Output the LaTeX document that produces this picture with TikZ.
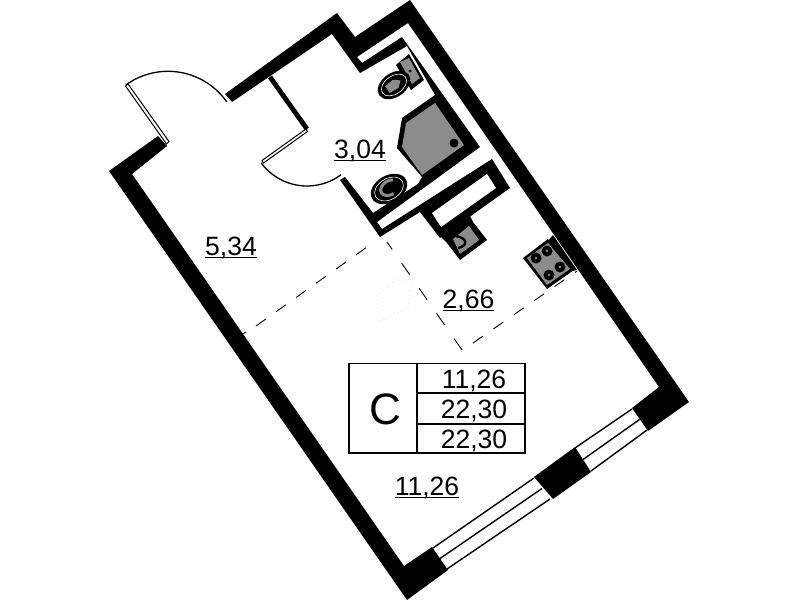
\documentclass[tikz,border=0pt]{standalone}
\usepackage{fontspec}
\usetikzlibrary{calc}
\setmainfont{Liberation Sans}
\newcommand{\ulbl}[1]{\setbox0\hbox{#1}\rlap{\rule[-3pt]{\wd0}{1.4pt}}\box0}
\definecolor{fixgray}{HTML}{8C8C8C}
\tikzset{
  wall/.style={fill=black,draw=none},
  hole/.style={fill=white,draw=none},
  fixture/.style={fill=fixgray,draw=none},
  thinwall/.style={draw=black,line width=4.8pt},
  swing/.style={draw=black,line width=1.3pt},
  leaf/.style={draw=black,line width=1pt,fill=white},
  zone/.style={draw=black,line width=.9pt},
  glass/.style={draw=black,line width=1.4pt},
  area/.style={font=\fontsize{26.5}{26.5}\selectfont,anchor=base,inner sep=0pt},
  cell/.style={font=\fontsize{26.5}{26.5}\selectfont,anchor=base,inner sep=0pt},
  grid/.style={draw=black,line width=1.4pt}
}
\begin{document}
\begin{tikzpicture}[x=1pt,y=-1pt]
\useasboundingbox (0,0) rectangle (799,600);
% walls
\fill[wall] (167,146) -- (158,136) -- (109,171) -- (407,600) -- (448,570) -- (432,547) -- (404,566) -- (132,174) -- cycle;
\fill[wall] (225,94) -- (337,13) -- (355,37) -- (410,0) -- (689,402) -- (648,431) -- (632,408) -- (659,387)
  -- (408,23) -- (357,57) -- (362,63) -- (402,37) -- (480,147) -- (377,222) -- (382,229) -- (492,159)
  -- (510,188) -- (440,238) -- (420,212) -- (380,237) -- (340,180) -- (345,177) -- (373,213)
  -- (418,184) -- (422,177) -- (397,148) -- (402,118) -- (435,95) -- (407,46) -- (360,73) -- (332,34)
  -- (232,102) -- cycle;
\fill[hole] (432,213) -- (487,174) -- (496,188) -- (441,227) -- cycle;
% middle pier
\fill[wall] (534,477) -- (575,447) -- (591,472) -- (553,499) -- cycle;
% window
\coordinate (wa) at (433,548); \coordinate (wb) at (447,569);
\coordinate (wc) at (534,478); \coordinate (wd) at (550,499);
\coordinate (we) at (575,448); \coordinate (wf) at (591,471);
\coordinate (wg) at (632,409); \coordinate (wh) at (647,430);
\draw[glass] (wa) -- (wc);
\draw[glass] ($(wa)!.5!(wb)$) -- ($(wc)!.5!(wd)$);
\draw[glass] (wb) -- (wd);
\draw[glass] (we) -- (wg);
\draw[glass] ($(we)!.5!(wf)$) -- ($(wg)!.5!(wh)$);
\draw[glass] (wf) -- (wh);
% partition and doors
\coordinate (pa) at (270,77); \coordinate (pb) at (307,129);
\draw[thinwall,line join=miter] (pa) -- (pb);
\draw[leaf] (262,160.5) -- (306,129) -- (307.5,131.5) -- (263.5,163) -- cycle;
\draw[swing] plot[domain=53.5:143.7,samples=40,smooth] ({307+57*cos(\x)},{129+57*sin(\x)});
\draw[leaf] (125.5,86) -- (128,84) -- (169,141.5) -- (166.5,144) -- cycle;
\draw[swing] plot[domain=-126:-35,samples=50,smooth] ({168+71.7*cos(\x)},{143+71.7*sin(\x)});
% shower
\fill[fixture] (435,103) -- (406,123) -- (402,147) -- (422,175) -- (464,145) -- cycle;
\fill[black] (454,143) circle (4.5);
% toilet
\fill[black] (409,54) -- (424,80) -- (411,90) -- (396,65) -- cycle;
\fill[fixture] (400,62) -- (409,58) -- (420,78) -- (412,84) -- cycle;
\fill[black] (410,71) circle (1.5);
\begin{scope}[shift={(394,85)},rotate=35]
\fill[black] (0,0) ellipse (18 and 12);
\draw[white,line width=.6pt] (0,0) ellipse (14 and 9);
\fill[fixture] (-8,-4) -- (2,-5) -- (8,0) -- (2,5) -- (-8,4) -- cycle;
\end{scope}
% bidet
\begin{scope}[shift={(389,189)},rotate=30]
\fill[black] (0,0) ellipse (19.5 and 13.5);
\draw[white,line width=.6pt] (0,0) ellipse (15.5 and 10.5);
\draw[fixgray,line width=3pt] (8,-6) arc (-50:-270:10 and 7);
\end{scope}
% sink
\fill[black] (441,237) -- (470,216) -- (473,222) -- (487,240) -- (460,260) -- (447,243) -- cycle;
\fill[fixture] (453,239) -- (469,226) -- (479,240) -- (460,254) -- cycle;
\draw[black,line width=2.4pt] (456,236) .. controls (468,238) and (468,246) .. (458,248);
% stove
\fill[black] (548,241) -- (553,235) -- (577,270) -- (572,271) -- cycle;
\fill[black] (523,258) -- (548,239) -- (574,270) -- (547,289) -- cycle;
\fill[fixture] (527,258) -- (548,243) -- (570,269) -- (547,285) -- cycle;
\foreach \bx/\by in {536/258,547/251,560/267,549/275}{
  \fill[black] (\bx,\by) circle (5.5);
  \fill[fixgray] (\bx,\by) circle (1.3);
}
% zone lines
\coordinate (za) at (256,326); \coordinate (zb) at (367,247);
\coordinate (zc) at (462,350); \coordinate (zd) at (387,242);
\coordinate (ze) at (473,343); \coordinate (zf) at (577,271);
\draw[zone] (243,334) -- (246,332);
\draw[zone,dash pattern=on 12pt off 12.6pt] (za) -- (zb);
\draw[zone,dash pattern=on 14pt off 16.6pt] (zc) -- (zd);
\draw[zone,dash pattern=on 12pt off 12.8pt] (ze) -- (zf);
% faint mark
\draw[black!8,line width=.7pt,dash pattern=on 2pt off 2pt] (378,295) -- (378,322) -- (408,308) -- (412,280) -- (395,280) -- cycle;
% area labels
\node[area] (a304) at (360,158) {\ulbl{3,04}};
\node[area] (a534) at (231,255) {\ulbl{5,34}};
\node[area] (a266) at (468.5,308) {\ulbl{2,66}};
\node[area] (a1126) at (427,495) {\ulbl{11,26}};
% table
\draw[grid] (349,363.5) rectangle (525,453);
\draw[grid] (417,363.5) -- (417,453);
\draw[grid] (417,393) -- (525,393);
\draw[grid] (417,424) -- (525,424);
\node[font=\fontsize{44}{44}\selectfont,anchor=base,inner sep=0pt] (tc) at (385,424.5) {C};
\node[cell] (t1) at (474,388) {11,26};
\node[cell] (t2) at (474,418.5) {22,30};
\node[cell] (t3) at (474,448.5) {22,30};
\end{tikzpicture}
\end{document}
